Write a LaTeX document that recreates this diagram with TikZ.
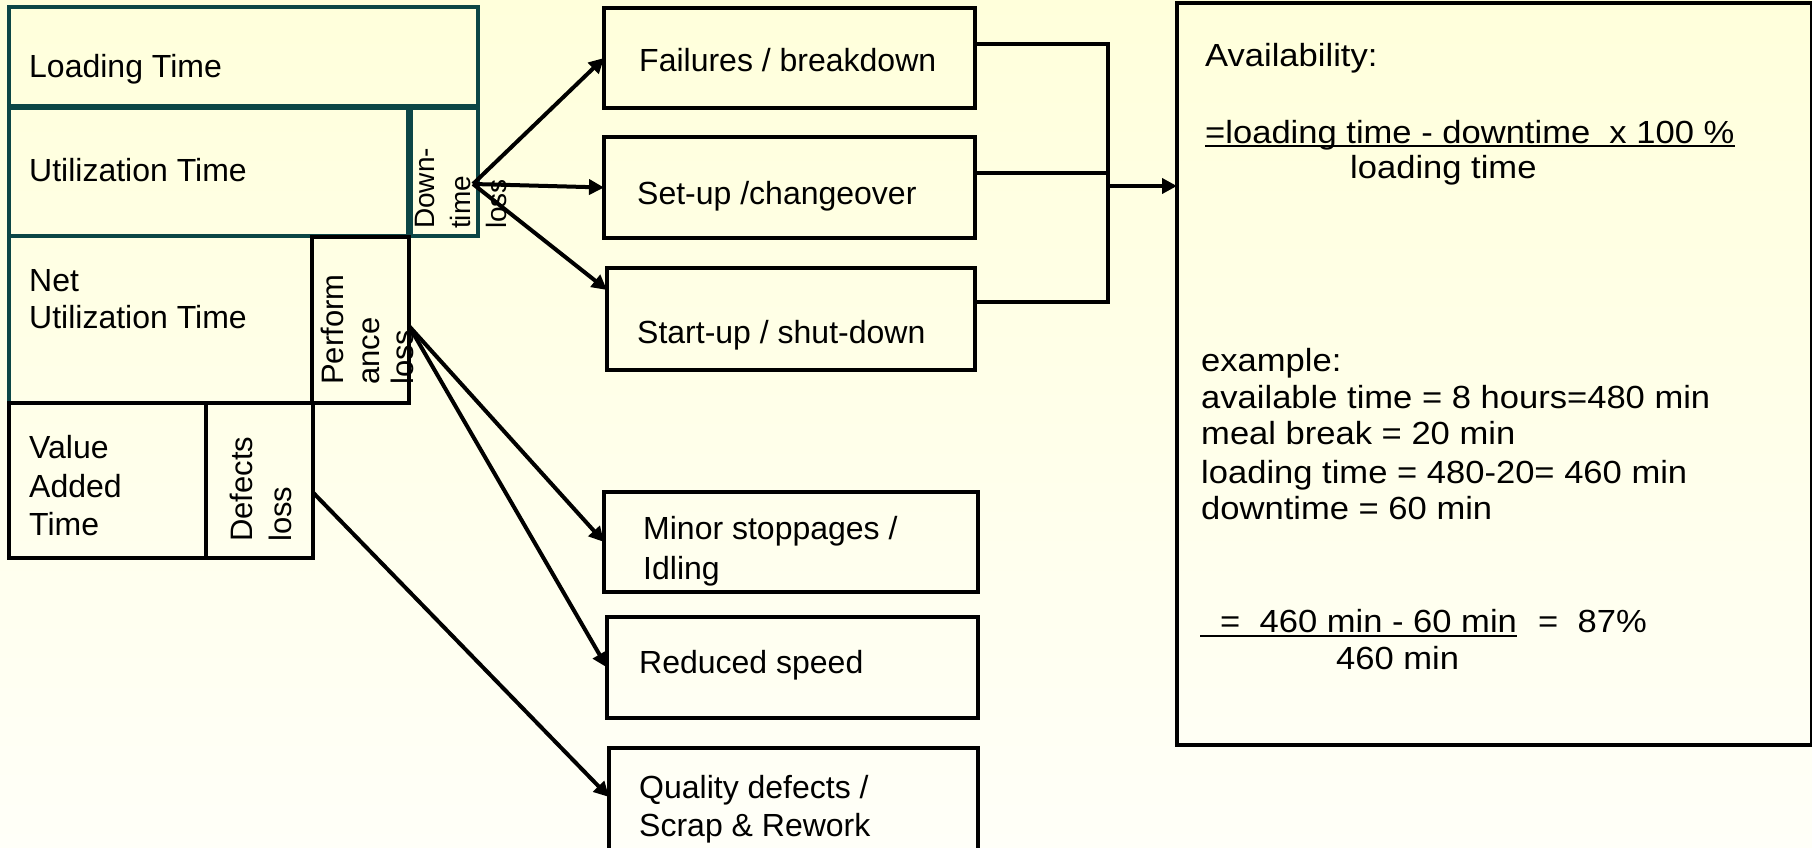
\documentclass[tikz,border=0pt]{standalone}
\usepackage{fontspec}
\setmainfont{Liberation Sans}
\newfontfamily\widesans[FakeStretch=1.08]{Liberation Sans}
\usetikzlibrary{arrows.meta,calc}
\definecolor{frameteal}{RGB}{12,70,70}
\definecolor{bgtop}{RGB}{255,255,219}
\definecolor{bgbottom}{RGB}{255,255,248}

\begin{document}
\begin{tikzpicture}[x=1pt,y=-1pt,
  box/.style={draw=black, line width=3.3pt, rectangle, inner sep=0pt, outer sep=0pt, anchor=north west},
  tealbox/.style={box, draw=frameteal},
  lbl/.style={inner sep=0pt, anchor=base west, yshift=-1.5pt, font=\fontsize{32}{37}\selectfont},
  vlbl/.style={inner sep=0pt, anchor=base west, rotate=90},
  rlbl/.style={inner sep=0pt, anchor=base west, yshift=-1pt, font=\widesans\fontsize{32}{37}\selectfont},
  link/.style={line width=4pt},
  arr/.style={line width=4pt, -{Triangle[length=15pt,width=15pt]}},
  uline/.style={line width=2pt},
]
% background
\shade[top color=bgtop, bottom color=bgbottom] (0,0) rectangle (1812,848);
\useasboundingbox (0,0) rectangle (1812,848);

% time breakdown blocks
\node[tealbox, minimum width=469, minimum height=99]  (LT)  at (9,7)    {};
\node[tealbox, minimum width=399, minimum height=128] (UT)  at (9,108)  {};
\node[tealbox, minimum width=67,  minimum height=128] (DT)  at (411,108) {};
\node[tealbox, minimum width=303, minimum height=167] (NUT) at (9,236)  {};
\node[box,     minimum width=97,  minimum height=166] (PL)  at (312,237) {};
\node[box,     minimum width=197, minimum height=155] (VA)  at (9,403)  {};
\node[box,     minimum width=107, minimum height=155] (DL)  at (206,403) {};

\node[lbl] (tLT)  at (29,76)  {Loading Time};
\node[lbl] (tUT)  at (29,180) {Utilization Time};
\node[lbl] (tN1)  at (29,290) {Net};
\node[lbl] (tN2)  at (29,327) {Utilization Time};
\node[lbl] (tV1)  at (29,457) {Value};
\node[lbl] (tV2)  at (29,496) {Added};
\node[lbl] (tV3)  at (29,534) {Time};

\node[vlbl, font=\fontsize{28}{32}\selectfont] (tD1) at (434,229) {Down-};
\node[vlbl, font=\fontsize{28}{32}\selectfont] (tD2) at (470,229) {time};
\node[vlbl, font=\fontsize{28}{32}\selectfont] (tD3) at (506,229) {loss};
\node[vlbl, font=\fontsize{31}{36}\selectfont] (tP1) at (343,385) {Perform};
\node[vlbl, font=\fontsize{31}{36}\selectfont] (tP2) at (379,385) {ance};
\node[vlbl, font=\fontsize{31}{36}\selectfont] (tP3) at (413,385) {loss};
\node[vlbl, font=\fontsize{31}{36}\selectfont] (tQ1) at (252,542) {Defects};
\node[vlbl, font=\fontsize{31}{36}\selectfont] (tQ2) at (291,542) {loss};

% loss categories
\node[box, minimum width=371, minimum height=100] (F)  at (604,8)   {};
\node[box, minimum width=371, minimum height=101] (S)  at (604,137) {};
\node[box, minimum width=368, minimum height=102] (SU) at (607,268) {};
\node[box, minimum width=374, minimum height=100] (M)  at (604,492) {};
\node[box, minimum width=371, minimum height=101] (R)  at (607,617) {};
\node[box, minimum width=369, minimum height=104] (Q)  at (609,748) {};

\node[lbl] (tF)  at (639,70)  {Failures / breakdown};
\node[lbl] (tS)  at (637,203) {Set-up /changeover};
\node[lbl] (tSU) at (637,342) {Start-up / shut-down};
\node[lbl] (tM1) at (643,538) {Minor stoppages /};
\node[lbl] (tM2) at (643,578) {Idling};
\node[lbl] (tR)  at (639,672) {Reduced speed};
\node[lbl] (tQa) at (639,797) {Quality defects /};
\node[lbl] (tQb) at (639,835) {Scrap \& Rework};

% availability panel
\node[box, minimum width=635, minimum height=742] (AV) at (1177,3) {};

\node[rlbl] (a1) at (1205,66)  {Availability:};
\node[rlbl] (a2) at (1205,142) {=loading time - downtime\ \ x 100 \%};
\draw[uline] ([yshift=-3pt]a2.base west) -- ([yshift=-3pt]a2.base east);
\node[rlbl] (a3) at (1350,177) {loading time};
\node[rlbl] (e0) at (1201,370) {example:};
\node[rlbl] (e1) at (1201,407) {available time = 8 hours=480 min};
\node[rlbl] (e2) at (1201,443) {meal break = 20 min};
\node[rlbl] (e3) at (1201,482) {loading time = 480-20= 460 min};
\node[rlbl] (e4) at (1201,518) {downtime = 60 min};
\node[rlbl] (r1) at (1220,631) {=\ \ 460 min - 60 min};
\draw[uline] (r1.base west) ++(-20,4) -- ([yshift=-4pt]r1.base east);
\node[rlbl] (r2) at (1538,631) {=\ \ 87\%};
\node[rlbl] (r3) at (1336,668) {460 min};

% arrows from the loss blocks
\coordinate (dtsrc) at (473,184);
\draw[arr] (dtsrc) -- (F.west);
\draw[arr] (dtsrc) -- (S.west);
\draw[arr] (dtsrc) -- ($(SU.west)+(0,-29)$);
\coordinate (plsrc) at ($(PL.east)+(0,6)$);
\draw[arr] (plsrc) -- (M.west);
\draw[arr] (plsrc) -- (R.west);
\draw[arr] ($(DL.east)+(0,12)$) -- ($(Q.west)+(0,-3)$);

% collector into the availability panel
\coordinate (bus) at (1108,186);
\draw[link] ($(F.east)+(0,-14)$) -| ($(SU.east)+(133,-17)$) -- ($(SU.east)+(0,-17)$);
\draw[link] ($(S.east)+(0,-14.5)$) -- +(133,0);
\draw[arr] (bus) -- (AV.west |- bus);
\end{tikzpicture}
\end{document}
